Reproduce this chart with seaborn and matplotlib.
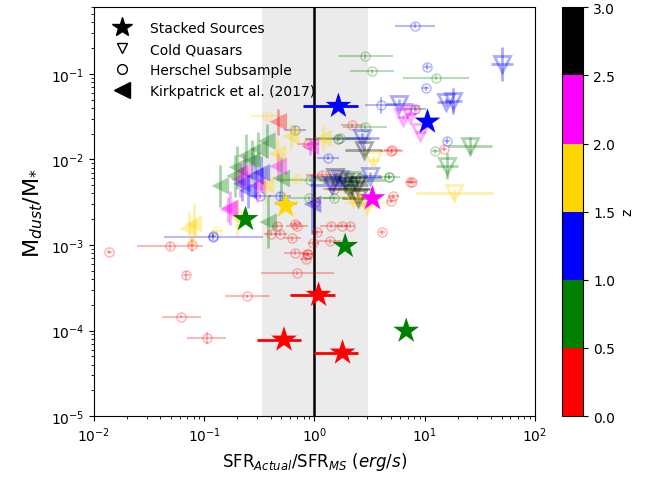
import numpy as np
import pandas as pd
import matplotlib
matplotlib.use("Agg")
import matplotlib.pyplot as plt
from matplotlib.colors import ListedColormap, BoundaryNorm
from matplotlib.lines import Line2D
import seaborn as sns

# ---------------- data ----------------
z_colors = ["red", "green", "blue", "gold", "magenta", "black"]
z_bounds = [0.0, 0.5, 1.0, 1.5, 2.0, 2.5, 3.0]

# Stacked sources
st_x = [0.53, 1.09, 1.8, 0.237, 1.9, 6.8, 1.65, 10.6, 0.55, 3.36]
st_y = [7.8e-5, 2.6e-4, 5.5e-5, 2.0e-3, 9.7e-4, 9.9e-5, 4.2e-2, 2.75e-2, 2.86e-3, 3.5e-3]
st_z = [0.25, 0.25, 0.25, 0.75, 0.75, 0.75, 1.25, 1.25, 1.75, 2.25]
st_xlo = [0.30, 0.60, 1.0, 0.237, 1.9, 6.8, 0.78, 10.6, 0.55, 3.36]
st_xhi = [0.75, 1.55, 2.5, 0.237, 1.9, 6.8, 2.5, 10.6, 0.55, 3.36]

# Herschel subsample (circles): x, y, z, xerr (dex), yerr (dex)
hs_x = [0.0138, 0.049, 0.077, 0.069, 0.246, 0.062, 0.105, 0.70, 0.66, 0.83, 0.88, 0.98,
        1.06, 0.63, 0.70, 0.49, 0.40, 1.40, 1.79, 2.1, 4.1, 1.37, 0.86, 0.46, 0.67,
        5.1, 7.4, 5.2, 4.9, 1.18, 2.2, 1.02, 15.0, 5.0, 7.6, 0.88, 0.55, 1.5,
        2.9, 3.3, 12.7, 12.5, 4.7, 1.72, 2.9, 4.7, 1.49, 0.92, 0.9, 2.0,
        8.2, 10.6, 10.2, 4.05, 16.0, 0.67, 1.34, 0.121, 0.49, 0.32, 0.119,
        0.375, 0.67, 0.70, 0.13, 2.4, 3.0,
        8.1, 1.65, 2.6]
hs_y = [8.3e-4, 9.7e-4, 1.0e-3, 4.4e-4, 2.5e-4, 1.45e-4, 8.1e-5, 4.7e-4, 8.1e-4, 6.8e-4, 7.8e-4, 1.05e-3,
        1.4e-3, 1.2e-3, 1.65e-3, 1.35e-3, 1.35e-3, 1.67e-3, 1.67e-3, 1.67e-3, 1.4e-3, 1.1e-3, 7.9e-4, 1.67e-3, 1.76e-3,
        0.0128, 0.0055, 0.0037, 0.0033, 0.0066, 0.025, 0.0032, 0.0134, 0.0125, 0.0055, 0.015, 0.0030, 0.0045,
        0.16, 0.107, 0.09, 0.0125, 0.0062, 0.018, 0.0242, 0.0063, 0.0035, 0.0058, 0.0035, 0.0045,
        0.365, 0.12, 0.068, 0.043, 0.0164, 0.022, 0.0105, 1.24e-3, 0.0037, 0.0037, 1.28e-3,
        0.032, 0.0218, 0.0059, 1.45e-3, 0.0036, 0.0031,
        0.039, 0.0175, 0.0060]
hs_z = [0.25] * 38 + [0.75] * 12 + [1.25] * 11 + [1.75] * 6 + [2.75] * 3
hs_xe = [0.0, 0.3, 0.03, 0.03, 0.2, 0.18, 0.18, 0.33, 0.1, 0.05, 0.05, 0.05,
         0.05, 0.08, 0.1, 0.06, 0.06, 0.1, 0.05, 0.05, 0.03, 0.1, 0.05, 0.05, 0.05,
         0.08, 0.03, 0.05, 0.03, 0.15, 0.1, 0.05, 0.03, 0.1, 0.05, 0.1, 0.1, 0.1,
         0.25, 0.2, 0.3, 0.03, 0.03, 0.25, 0.2, 0.1, 0.1, 0.3, 0.25, 0.2,
         0.18, 0.03, 0.03, 0.15, 0.03, 0.1, 0.1, 0.45, 0.1, 0.1, 0.03,
         0.15, 0.05, 0.15, 0.05, 0.2, 0.2,
         0.1, 0.3, 0.2]
hs_ye = [0.02, 0.05, 0.08, 0.05, 0.02, 0.02, 0.07, 0.02, 0.03, 0.03, 0.03, 0.03,
         0.03, 0.03, 0.03, 0.03, 0.03, 0.03, 0.03, 0.03, 0.03, 0.03, 0.03, 0.03, 0.03,
         0.03, 0.03, 0.03, 0.03, 0.03, 0.03, 0.03, 0.03, 0.03, 0.03, 0.03, 0.03, 0.03,
         0.03, 0.03, 0.03, 0.03, 0.03, 0.03, 0.03, 0.03, 0.03, 0.03, 0.03, 0.03,
         0.03, 0.03, 0.03, 0.1, 0.03, 0.05, 0.03, 0.03, 0.05, 0.03, 0.03,
         0.03, 0.03, 0.03, 0.03, 0.03, 0.03,
         0.03, 0.03, 0.03]

# Cold quasars (down triangles)
cq_x = [50.7, 5.9, 15.5, 18.2, 2.7, 1.72, 3.2, 1.45,
        6.3, 7.4, 9.1,
        26.0, 16.0, 2.2,
        18.6, 3.4, 2.26, 3.0,
        2.8, 1.9, 2.45, 2.5, 1.55, 2.1]
cq_y = [0.131, 0.045, 0.047, 0.048, 0.018, 0.0059, 0.0064, 0.0050,
        0.031, 0.034, 0.021,
        0.0144, 0.0084, 0.0058,
        0.0040, 0.0098, 0.0035, 0.0029,
        0.0128, 0.0055, 0.0050, 0.0035, 0.0062, 0.0045]
cq_z = [1.25] * 8 + [2.25] * 3 + [0.75] * 3 + [1.75] * 4 + [2.75] * 6
cq_xe = [0.1, 0.12, 0.08, 0.08, 0.15, 0.15, 0.1, 0.2,
         0.05, 0.05, 0.05,
         0.2, 0.1, 0.3,
         0.35, 0.05, 0.1, 0.1,
         0.17, 0.2, 0.1, 0.15, 0.2, 0.2]
cq_ye = [0.2, 0.05, 0.05, 0.15, 0.05, 0.05, 0.05, 0.05,
         0.03, 0.03, 0.03,
         0.1, 0.15, 0.05,
         0.05, 0.05, 0.05, 0.05,
         0.05, 0.05, 0.05, 0.05, 0.05, 0.05]

# Kirkpatrick et al. (2017) (left triangles)
kp_x = [0.47,
        0.61, 0.46, 0.08, 0.072, 1.2, 0.2, 0.36,
        0.37, 0.31, 0.27, 0.20, 0.19, 0.14, 0.38, 0.50, 0.24,
        0.23, 0.47, 0.17, 0.92, 0.166, 0.30, 0.21,
        0.29, 0.25, 0.96, 0.22, 0.33]
kp_y = [0.0275,
        0.0186, 0.0116, 1.76e-3, 1.55e-3, 0.0175, 2.1e-3, 5.0e-3,
        0.0164, 0.0132, 0.0096, 0.0081, 0.0064, 0.0049, 1.85e-3, 0.0060, 0.011,
        0.0073, 0.0083, 0.0027, 0.0142, 2.6e-3, 0.0050, 0.0058,
        0.0064, 0.0043, 0.0030, 0.0052, 0.0070]
kp_z = [0.25] + [1.75] * 7 + [0.75] * 9 + [2.25] * 7 + [1.25] * 5
kp_ye = [0.15,
         0.15, 0.2, 0.25, 0.2, 0.15, 0.2, 0.2,
         0.2, 0.2, 0.25, 0.25, 0.25, 0.25, 0.3, 0.25, 0.25,
         0.2, 0.15, 0.2, 0.1, 0.15, 0.2, 0.2,
         0.25, 0.2, 0.35, 0.2, 0.2]

# ---------------- plotting ----------------
cmap = ListedColormap(z_colors)
norm = BoundaryNorm(z_bounds, cmap.N)


def colour(z):
    return cmap(norm(z))


def dex_err(vals, dex):
    v = np.asarray(vals, float)
    d = np.asarray(dex, float)
    return np.vstack([v * (1 - 10 ** (-d)), v * (10 ** d - 1)])


fig = plt.figure(figsize=(6.62, 4.85), dpi=100)
ax = fig.add_axes([0.142, 0.140, 0.666, 0.843])
cax = fig.add_axes([0.849, 0.140, 0.032, 0.843])

ax.axvspan(1 / 3, 3.05, color="0.85", alpha=0.5, lw=0, zorder=0)
ax.axvline(1.0, color="black", lw=1.8, zorder=1)

# Herschel subsample circles
for x, y, z, xe, ye in zip(hs_x, hs_y, hs_z, hs_xe, hs_ye):
    c = colour(z)
    ax.errorbar([x], [y], xerr=dex_err([x], [max(xe, 0.02)]), yerr=dex_err([y], [ye]),
                fmt="o", ms=6.5, mfc="none", mec=c, ecolor=c, mew=1.1,
                elinewidth=1.5, alpha=0.28, zorder=2)

# Cold quasars
for x, y, z, xe, ye in zip(cq_x, cq_y, cq_z, cq_xe, cq_ye):
    c = colour(z)
    ax.errorbar([x], [y], xerr=dex_err([x], [xe]), yerr=dex_err([y], [ye]),
                fmt="v", ms=11.5, mfc="none", mec=c, ecolor=c, mew=2.0,
                elinewidth=2, alpha=0.33, zorder=3)

# Kirkpatrick
for x, y, z, ye in zip(kp_x, kp_y, kp_z, kp_ye):
    c = colour(z)
    ax.errorbar([x], [y], yerr=dex_err([y], [ye]), fmt="none", ecolor=c,
                elinewidth=2, alpha=0.33, zorder=3)
kp_df = pd.DataFrame({"x": kp_x, "y": kp_y,
                      "col": [matplotlib.colors.to_hex(colour(z)) for z in kp_z]})
sns.scatterplot(data=kp_df, x="x", y="y", hue="col",
                palette={c: c for c in kp_df["col"].unique()},
                marker="<", s=160, alpha=0.35, linewidth=0, legend=False, ax=ax, zorder=4)

# Stacked sources
for x, y, z, lo, hi in zip(st_x, st_y, st_z, st_xlo, st_xhi):
    if hi > lo:
        ax.errorbar([x], [y], xerr=[[x - lo], [hi - x]], fmt="none",
                    ecolor=colour(z), elinewidth=2, zorder=5)
st_df = pd.DataFrame({"x": st_x, "y": st_y,
                      "col": [matplotlib.colors.to_hex(colour(z)) for z in st_z]})
sns.scatterplot(data=st_df, x="x", y="y", hue="col",
                palette={c: c for c in st_df["col"].unique()},
                marker="*", s=380, linewidth=0, legend=False, ax=ax, zorder=6)

ax.set_xscale("log")
ax.set_yscale("log")
ax.set_xlim(1e-2, 1e2)
ax.set_ylim(1e-5, 0.6)
ax.set_xlabel(r"SFR$_{Actual}$/SFR$_{MS}$ $(erg/s)$", fontsize=12)
ax.set_ylabel(r"M$_{dust}$/M$_{*}$", fontsize=16)

handles = [
    Line2D([], [], ls="none", marker="*", ms=15, color="black"),
    Line2D([], [], ls="none", marker="v", ms=7, mfc="none", mec="black"),
    Line2D([], [], ls="none", marker="o", ms=7, mfc="none", mec="black"),
    Line2D([], [], ls="none", marker="<", ms=12, color="black"),
]
labels = ["Stacked Sources", "Cold Quasars", "Herschel Subsample", "Kirkpatrick et al. (2017)"]
ax.legend(handles, labels, loc="upper left", frameon=False, fontsize=10,
          borderaxespad=0.6, handletextpad=1.0)

sm = matplotlib.cm.ScalarMappable(norm=norm, cmap=cmap)
cb = fig.colorbar(sm, cax=cax, ticks=z_bounds)
cb.set_label("z", fontsize=10)

fig.savefig("out.png", dpi=100)
